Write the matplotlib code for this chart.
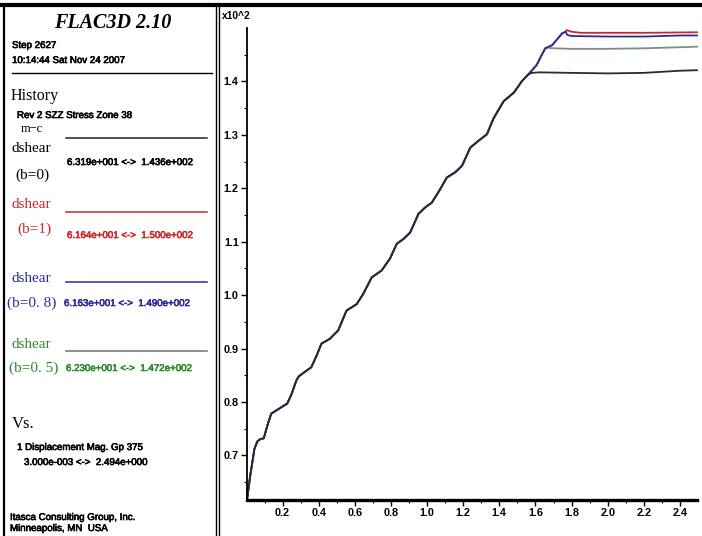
import matplotlib
matplotlib.use("Agg")
import matplotlib.pyplot as plt
from matplotlib.lines import Line2D
from matplotlib import font_manager
import matplotlib.patheffects as pe
import numpy as np

W, H = 702, 536

# ---------------- data (x: displacement, y: SZZ stress x10^2) ----------------
rise_x = [0.003, 0.02, 0.044, 0.06, 0.075, 0.096, 0.115, 0.137, 0.165, 0.193, 0.226,
          0.25, 0.276, 0.29, 0.322, 0.359, 0.39, 0.415, 0.461, 0.508, 0.554, 0.61,
          0.646, 0.693, 0.748, 0.794, 0.832, 0.869, 0.906, 0.952, 0.989, 1.026,
          1.072, 1.109, 1.156, 1.193, 1.239, 1.285, 1.331, 1.368, 1.424, 1.48,
          1.526, 1.563]
rise_y = [0.616, 0.66, 0.712, 0.726, 0.730, 0.732, 0.755, 0.778, 0.784, 0.790, 0.797,
          0.815, 0.840, 0.848, 0.856, 0.865, 0.888, 0.909, 0.918, 0.934, 0.971, 0.983,
          1.002, 1.033, 1.046, 1.068, 1.096, 1.105, 1.117, 1.152, 1.164, 1.173,
          1.198, 1.220, 1.230, 1.242, 1.276, 1.289, 1.301, 1.331, 1.363, 1.379,
          1.401, 1.414]
# shared by b=0.5, 0.8, 1
mid_x = [1.607, 1.635, 1.654]
mid_y = [1.431, 1.450, 1.462]
# shared by b=0.8, 1
high_x = [1.693, 1.72, 1.748, 1.767]
high_y = [1.468, 1.479, 1.490, 1.493]

tail_b0_x = [1.581, 1.62, 1.8, 2.0, 2.2, 2.3, 2.4, 2.494]
tail_b0_y = [1.416, 1.417, 1.416, 1.415, 1.416, 1.418, 1.420, 1.421]
tail_b05_x = [1.672, 1.70, 1.8, 2.0, 2.2, 2.4, 2.494]
tail_b05_y = [1.463, 1.462, 1.461, 1.461, 1.462, 1.464, 1.465]
tail_b08_x = [1.776, 1.80, 2.0, 2.2, 2.4, 2.494]
tail_b08_y = [1.487, 1.485, 1.484, 1.484, 1.486, 1.486]
tail_b1_x = [1.772, 1.80, 1.85, 2.2, 2.494]
tail_b1_y = [1.496, 1.493, 1.491, 1.491, 1.492]

y_ticks = [0.7, 0.8, 0.9, 1.0, 1.1, 1.2, 1.3, 1.4]
x_ticks = [0.2, 0.4, 0.6, 0.8, 1.0, 1.2, 1.4, 1.6, 1.8, 2.0, 2.2, 2.4]
x_range = (0.003, 2.494)
y_range = (0.6164, 1.500)

ranges_txt = ["6.319e+001 <->  1.436e+002", "6.164e+001 <->  1.500e+002",
              "6.163e+001 <->  1.490e+002", "6.230e+001 <->  1.472e+002"]
col_red, col_blue, col_green = "#d02828", "#2c2c9a", "#2f8a2f"

# ---------------- fonts ----------------
avail = {f.name for f in font_manager.fontManager.ttflist}
sans = ["Liberation Sans Narrow", "Liberation Sans", "DejaVu Sans"]
sans = [f for f in sans if f in avail] or ["DejaVu Sans"]
narrow = sans[0] == "Liberation Sans Narrow"
serif = ["Liberation Serif", "DejaVu Serif"]

fig = plt.figure(figsize=(W / 100, H / 100), dpi=100)
fig.patch.set_facecolor("white")


def fx(x):
    return x / W


def fy(y):
    return 1 - y / H


def ftext(x, y, s, size, fam, color="black", ha="left", thick=False, **kw):
    t = fig.text(fx(x), fy(y), s, fontsize=size, family=fam, color=color,
                 ha=ha, va="center", **kw)
    if thick:
        t.set_path_effects([pe.withStroke(linewidth=0.45, foreground=color)])
    return t


def fline(x0, y0, x1, y1, lw=1.0, color="black"):
    fig.add_artist(Line2D([fx(x0), fx(x1)], [fy(y0), fy(y1)], lw=lw,
                          color=color, transform=fig.transFigure))


# frame lines
fline(0, 5, W, 5, lw=3.0)
fline(4, 5, 4, H, lw=1.6)
fline(216, 5, 216, H, lw=1.0)
fline(219, 5, 219, H, lw=1.0)

ssz = 8.4 if narrow else 7.0

ftext(113, 23, "FLAC3D 2.10", 14.5, serif, ha="center", weight="bold", style="italic")
ftext(12, 45, "Step 2627", ssz, sans, thick=True)
ftext(12, 60, "10:14:44 Sat Nov 24 2007", ssz, sans, thick=True)
fline(12, 73, 212, 73, lw=1.0)
ftext(11, 96, "History", 11.5, serif)
ftext(17, 115, "Rev 2 SZZ Stress Zone 38", ssz, sans, thick=True)
ftext(21, 129, "m\u2212c", 9, serif)

# legend entries
leg = [
    # (dshear_y, line_y, b_label, b_x, b_y, val_x, val_y, color, line_color)
    (149, 138, "(b=0)", 15, 175, 67, 162, "black", "#222222"),
    (205, 212, "(b=1)", 17, 229, 67, 235, col_red, col_red),
    (279, 282, "(b=0. 8)", 7, 303, 64, 303, col_blue, col_blue),
    (345, 351, "(b=0. 5)", 9, 368, 66, 368, col_green, "#707070"),
]
for i, (dy, ly, bl, bx, by, vx, vy, c, lc) in enumerate(leg):
    ftext(11, dy, "dshear", 11, serif, color=c)
    fline(66, ly, 207, ly, lw=1.1, color=lc)
    ftext(bx, by, bl, 11, serif, color=c)
    ftext(vx, vy, ranges_txt[i], ssz, sans, color=c, thick=True)

ftext(12, 424, "Vs.", 12, serif)
ftext(17, 447, "1 Displacement Mag. Gp 375", ssz, sans, thick=True)
ftext(24, 462, "3.000e-003 <->  2.494e+000", ssz, sans, thick=True)
ftext(10, 517, "Itasca Consulting Group, Inc.", ssz, sans, thick=True)
ftext(10, 528, "Minneapolis, MN  USA", ssz, sans, thick=True)

# ---------------- axes ----------------
ax = fig.add_axes([fx(247), fy(500), (697 - 247) / W, (500 - 28) / H])
ax.set_facecolor("white")
ax.set_xlim(*x_range)
ax.set_ylim(*y_range)
for s in ["top", "right"]:
    ax.spines[s].set_visible(False)
ax.spines["left"].set_linewidth(1.3)
ax.spines["bottom"].set_linewidth(2.4)

ax.set_yticks(y_ticks)
ax.set_yticklabels([f"{v:.1f}" for v in y_ticks])
ax.set_yticks(list(np.array(y_ticks[:-1]) + 0.05) + [0.65, 1.45], minor=True)
ax.set_xticks(x_ticks)
ax.set_xticklabels([f"{v:.1f}" for v in x_ticks])
ax.set_xticks([v - 0.1 for v in x_ticks], minor=True)

ax.tick_params(axis="both", which="major", direction="out", length=4, width=1.0,
               labelsize=7.8, pad=2)
ax.tick_params(axis="both", which="minor", direction="out", length=2.5, width=0.8)
for lab in ax.get_xticklabels() + ax.get_yticklabels():
    lab.set_family(["Liberation Sans", "DejaVu Sans"])
    lab.set_weight("bold")

ax.text(-0.055, 1.025, "x10^2", transform=ax.transAxes, fontsize=7.4,
        family=["Liberation Sans", "DejaVu Sans"], weight="bold",
        ha="left", va="center")

# curves
b1_x = rise_x + mid_x + high_x + tail_b1_x
b1_y = rise_y + mid_y + high_y + tail_b1_y
b08_x = rise_x + mid_x + high_x + tail_b08_x
b08_y = rise_y + mid_y + high_y + tail_b08_y
b05_x = rise_x + mid_x + tail_b05_x
b05_y = rise_y + mid_y + tail_b05_y
b0_x = rise_x + tail_b0_x
b0_y = rise_y + tail_b0_y

kw = dict(lw=1.3, solid_joinstyle="round", clip_on=False)
ax.plot(b1_x, b1_y, color=col_red, **kw)
ax.plot(b05_x, b05_y, color="#7c917c", **kw)
ax.plot(b08_x, b08_y, color=col_blue, **kw)
ax.plot(b0_x, b0_y, color="#2a2a36", **kw)

fig.savefig("out.png", dpi=100, facecolor="white")
